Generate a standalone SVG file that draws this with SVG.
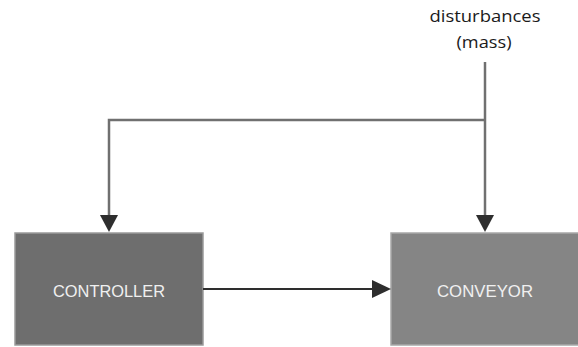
<svg xmlns="http://www.w3.org/2000/svg" width="578" height="347" viewBox="0 0 578 347">
<defs>
<style>
.box-label{font-family:"Liberation Sans",Arial,sans-serif;font-size:16px;fill:#f0f0f0;text-anchor:middle}
.label{font-family:"Open Sans","Liberation Sans",sans-serif;font-size:16.5px;fill:#1a1a1a;text-anchor:middle}
.wire{fill:none;stroke:#707070;stroke-width:2.5}
.arrow{fill:none;stroke:#2e2e2e;stroke-width:2}
.head{fill:#2e2e2e}
</style>
</defs>
<rect width="578" height="347" fill="#ffffff"/>
<g id="controller">
<rect x="15" y="233" width="188" height="112" fill="#6e6e6e" stroke="#9a9a9a" stroke-width="1.5"/>
<text class="box-label" x="109" y="297" textLength="112" lengthAdjust="spacingAndGlyphs">CONTROLLER</text>
</g>
<g id="conveyor">
<rect x="391" y="233" width="188" height="112" fill="#858585" stroke="#a8a8a8" stroke-width="1.5"/>
<text class="box-label" x="485" y="297" textLength="96" lengthAdjust="spacingAndGlyphs">CONVEYOR</text>
</g>
<g id="disturbances">
<text class="label" x="485" y="22" textLength="111" lengthAdjust="spacingAndGlyphs">disturbances</text>
<text class="label" x="484" y="48" textLength="55" lengthAdjust="spacingAndGlyphs">(mass)</text>
</g>
<g id="connectors">
<path class="wire" d="M485,62 V216"/>
<path class="wire" d="M485,120 H109 V216"/>
<path class="head" d="M476,215 L494,215 L485,232 Z"/>
<path class="head" d="M100,215 L118,215 L109,232 Z"/>
<path class="arrow" d="M203,289 H373"/>
<path class="head" d="M372,280 L391,289 L372,298 Z"/>
</g>
</svg>
